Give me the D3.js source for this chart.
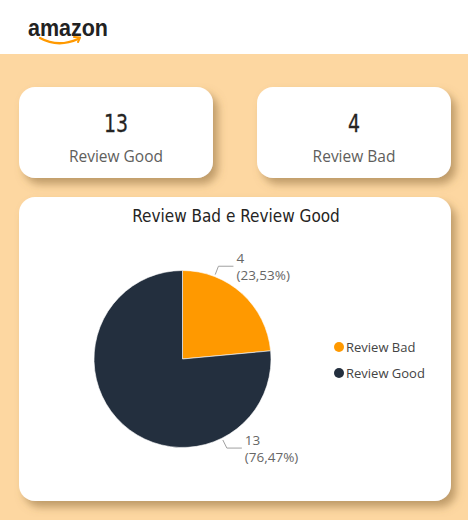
<!DOCTYPE html>
<html><head><meta charset="utf-8">
<script src="https://cdn.jsdelivr.net/npm/d3@7"></script>
<style>html,body{margin:0;padding:0;background:#fff;}svg{display:block;}</style>
</head><body>
<script>
const categories = ["Review Bad", "Review Good"];
const values = [4, 13];
const colors = ["#FF9900", "#232F3E"];
const cardLabels = ["Review Good", "Review Bad"];
const cardValues = [13, 4];
const chartTitle = "Review Bad e Review Good";

const W = 468, H = 520;
const svg = d3.select("body").append("svg").attr("width", W).attr("height", H);
const defs = svg.append("defs");
const f = defs.append("filter").attr("id","sh").attr("x","-20%").attr("y","-20%").attr("width","150%").attr("height","150%");
f.append("feDropShadow").attr("dx",5).attr("dy",6).attr("stdDeviation",4).attr("flood-color","#8a6a3a").attr("flood-opacity",0.55);

svg.append("rect").attr("width",W).attr("height",H).attr("fill","#FDD7A1");
svg.append("rect").attr("width",W).attr("height",54).attr("fill","#FFFFFF");

// logo
const logo = svg.append("g");
logo.append("text").attr("x",28).attr("y",36).text("amazon")
  .attr("font-family","Liberation Sans, Arial, sans-serif").attr("font-weight","bold")
  .attr("font-size",23).attr("textLength",80).attr("lengthAdjust","spacingAndGlyphs").attr("fill","#222");
logo.append("path").attr("d","M40,38 Q58,48 78,39").attr("fill","none").attr("stroke","#FF9900").attr("stroke-width",2.4).attr("stroke-linecap","round");
logo.append("path").attr("d","M74,37 L80,37.5 L78,42").attr("fill","none").attr("stroke","#FF9900").attr("stroke-width",2).attr("stroke-linecap","round").attr("stroke-linejoin","round");

// KPI cards
const cardX = d3.scaleBand().domain(cardLabels).range([19, 451]).paddingInner(0.185);
cardLabels.forEach((lab, i) => {
  const x = cardX(lab), w = cardX.bandwidth();
  const g = svg.append("g");
  g.append("rect").attr("x",x).attr("y",87).attr("width",w).attr("height",91).attr("rx",16)
    .attr("fill","#fff").attr("filter","url(#sh)");
  const s = String(cardValues[i]);
  g.append("text").attr("x",x+w/2).attr("y",132).attr("text-anchor","middle")
    .attr("font-family","DejaVu Sans Condensed, sans-serif").attr("font-size",25)
    .attr("stroke","#252423").attr("stroke-width",0.3)
    .attr("textLength", s.length*12).attr("lengthAdjust","spacingAndGlyphs")
    .attr("fill","#252423").text(s);
  g.append("text").attr("x",x+w/2).attr("y",162).attr("text-anchor","middle")
    .attr("font-family","Open Sans, sans-serif").attr("font-size",15.5)
    .attr("fill","#605E5C").text(lab);
});

// main card
svg.append("rect").attr("x",19).attr("y",197).attr("width",432).attr("height",304).attr("rx",16)
  .attr("fill","#fff").attr("filter","url(#sh)");
svg.append("text").attr("x",236).attr("y",222).attr("text-anchor","middle")
  .attr("font-family","DejaVu Sans Condensed, sans-serif").attr("font-size",17)
  .attr("fill","#252423").text(chartTitle);

// pie
const cx = 182.5, cy = 359, r = 88.5;
const pie = d3.pie().sort(null).value(d => d.v);
const data = pie(categories.map((c,i)=>({c, v: values[i]})));
const arc = d3.arc().innerRadius(0).outerRadius(r);
const color = d3.scaleOrdinal().domain(categories).range(colors);
const pg = svg.append("g").attr("transform",`translate(${cx},${cy})`);
pg.selectAll("path").data(data).join("path").attr("d",arc)
  .attr("fill",d=>color(d.data.c)).attr("stroke","#fff").attr("stroke-width",0.6);

const total = d3.sum(values);
const fmtPct = v => "(" + (v/total*100).toFixed(2).replace(".", ",") + "%)";
data.forEach(d => {
  const a = d.startAngle + 0.25*(d.endAngle - d.startAngle);
  const p0 = [ (r+2)*Math.sin(a), -(r+2)*Math.cos(a) ];
  const rr = r + 11;
  const p1 = [ rr*Math.sin(a), -rr*Math.cos(a) ];
  const p2 = [ p1[0] + 15, p1[1] ];
  pg.append("polyline").attr("points",[p0,p1,p2].map(p=>p.join(",")).join(" "))
    .attr("fill","none").attr("stroke","#a0a0a0").attr("stroke-width",1);
  const t = pg.append("text").attr("x",p2[0]+3).attr("y",p1[1]-3)
    .attr("font-family","Open Sans, sans-serif").attr("font-size",13.5).attr("fill","#666");
  t.append("tspan").attr("x",p2[0]+3).text(d.data.v);
  t.append("tspan").attr("x",p2[0]+3).attr("dy",17).text(fmtPct(d.data.v));
});

// legend
const ly = d3.scalePoint().domain(categories).range([347, 373]);
const lg = svg.append("g");
categories.forEach(c => {
  lg.append("circle").attr("cx",339).attr("cy",ly(c)).attr("r",5).attr("fill",color(c));
  lg.append("text").attr("x",346).attr("y",ly(c)+4.5)
    .attr("font-family","Open Sans, sans-serif").attr("font-size",13).attr("fill","#444").text(c);
});
</script>
</body></html>
